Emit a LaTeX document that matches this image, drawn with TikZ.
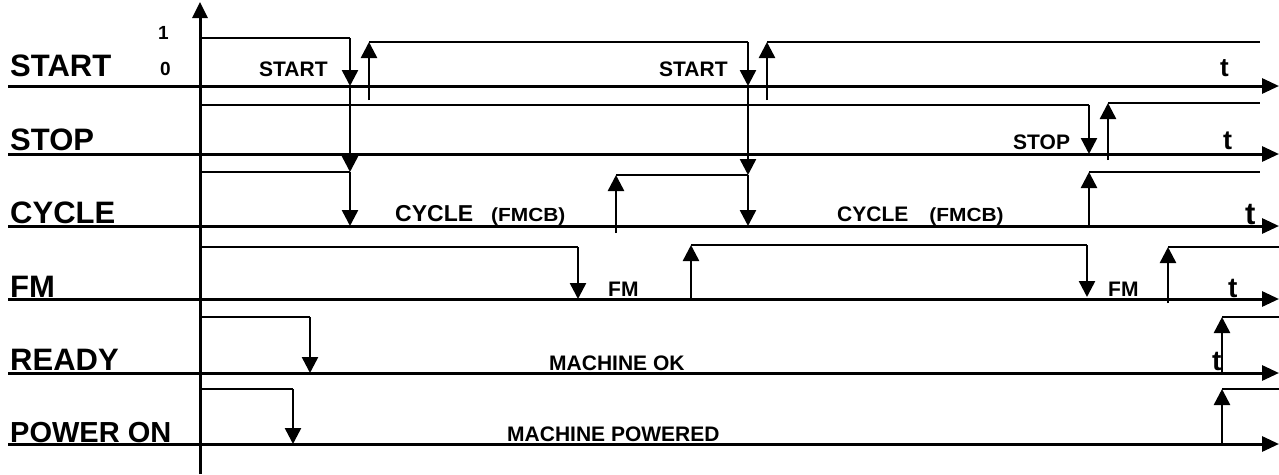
\documentclass[tikz,border=0pt]{standalone}
\usepackage{fontspec}
\setmainfont{Liberation Sans}
\usetikzlibrary{arrows.meta}

\begin{document}
\begin{tikzpicture}[
    x=1pt, y=-1pt,
    signame/.style={
        anchor=base west,
        inner sep=0pt,
        font=\fontsize{31}{31}\selectfont\bfseries
    },
    note/.style={
        anchor=base west,
        inner sep=0pt,
        font=\fontsize{21}{21}\selectfont\bfseries
    },
    tmark/.style={
        anchor=base west,
        inner sep=0pt,
        font=\fontsize{28}{28}\selectfont\bfseries
    },
    timeaxis/.style={draw, line width=3pt, -{Triangle[length=17pt, width=15pt]}},
    high/.style={draw, line width=2pt},
    flank/.style={draw, line width=2.5pt, -{Triangle[length=16pt, width=16pt]}}
]
\useasboundingbox (0,0) rectangle (1279,474);

\draw[line width=3pt, -{Triangle[length=16pt, width=15pt]}] (200,474) -- (200,2);
\foreach \y in {86,154,226,299,373,444}
    \draw[timeaxis] (8,\y) -- (1279,\y);

\node (one) [note, font=\fontsize{19}{19}\selectfont\bfseries] at (158,39) {1};
\node (zero) [note, font=\fontsize{19}{19}\selectfont\bfseries] at (160,75) {0};

\node (start) [signame] at (10,76) {START};
\node (stop) [signame] at (10,150) {STOP};
\node (cycle) [signame] at (10,223) {CYCLE};
\node (fm) [signame] at (10,297) {FM};
\node (ready) [signame] at (10,370) {READY};
\node (power) [signame, font=\fontsize{29}{29}\selectfont\bfseries] at (10,442) {POWER ON};

\node (start1) [note] at (259,76) {START};
\node (start2) [note] at (659,76) {START};
\node (stop1) [note] at (1013,149) {STOP};
\node (cycle1) [note, font=\fontsize{23}{23}\selectfont\bfseries] at (395,221) {CYCLE\hspace{18pt}\scalebox{1.1}[1]{\fontsize{19}{19}\selectfont(FMCB)}};
\node (cycle2) [note] at (837,221) {CYCLE\hspace{21pt}\scalebox{1.1}[1]{\fontsize{19}{19}\selectfont(FMCB)}};
\node (fm1) [note] at (608,296) {FM};
\node (fm2) [note] at (1108,296) {FM};
\node (ok) [note] at (549,370) {MACHINE OK};
\node (powered) [note] at (507,441) {MACHINE POWERED};

\node (tstart) [tmark, font=\fontsize{26}{26}\selectfont\bfseries] at (1220,76) {t};
\node (tstop) [tmark, font=\fontsize{27}{27}\selectfont\bfseries] at (1223,149) {t};
\node (tcycle) [tmark, font=\fontsize{31}{31}\selectfont\bfseries] at (1245,224) {t};
\node (tfm) [tmark] at (1228,297) {t};
\node (tready) [tmark] at (1212,370) {t};

\path[high] (200,38) -- (350,38);
\path[flank] (350,38) -- (350,86);
\path[flank] (350,86) -- (350,172);
\path[flank] (350,172) -- (350,226);
\path[flank] (369,100) -- (369,42);
\path[high] (369,42) -- (748,42);
\path[flank] (748,42) -- (748,86);
\path[flank] (748,86) -- (748,175);
\path[flank] (748,175) -- (748,226);
\path[flank] (767,100) -- (767,42);
\path[high] (767,42) -- (1260,42);

\path[high] (200,105) -- (1089,105);
\path[flank] (1089,105) -- (1089,154);
\path[flank] (1108,160) -- (1108,103);
\path[high] (1108,103) -- (1260,103);

\path[high] (200,172) -- (350,172);
\path[flank] (616,233) -- (616,175);
\path[high] (616,175) -- (748,175);
\path[flank] (1089,228) -- (1089,172);
\path[high] (1089,172) -- (1260,172);

\path[high] (200,247) -- (578,247);
\path[flank] (578,247) -- (578,299);
\path[flank] (691,299) -- (691,245);
\path[high] (691,245) -- (1087,245);
\path[flank] (1087,245) -- (1087,297);
\path[flank] (1168,303) -- (1168,247);
\path[high] (1168,247) -- (1279,247);

\path[high] (200,317) -- (310,317);
\path[flank] (310,317) -- (310,373);
\path[flank] (1222,373) -- (1222,317);
\path[high] (1222,317) -- (1279,317);

\path[high] (200,389) -- (293,389);
\path[flank] (293,389) -- (293,444);
\path[flank] (1222,444) -- (1222,389);
\path[high] (1222,389) -- (1279,389);

\end{tikzpicture}
\end{document}
